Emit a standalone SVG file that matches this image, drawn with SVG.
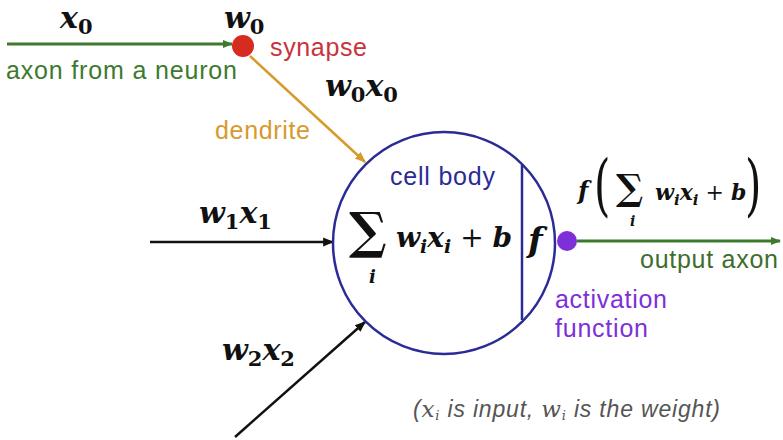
<svg xmlns="http://www.w3.org/2000/svg" width="783" height="440" viewBox="0 0 783 440">
<style>
.lbl{font-family:"Liberation Sans",Arial,sans-serif;font-size:25px}
.m{font-family:"DejaVu Serif",serif;font-weight:bold;font-style:italic;fill:#111}
.sub{font-style:normal;font-weight:bold}
.sig{font-family:"DejaVu Serif",serif;font-weight:bold;fill:#111}
</style>
<defs>
<marker id="ag" viewBox="0 0 10 10" refX="9" refY="5" markerWidth="10" markerHeight="10" markerUnits="userSpaceOnUse" orient="auto"><path d="M0,1 L10,5 L0,9 z" fill="#3d7a2f"/></marker>
<marker id="ao" viewBox="0 0 10 10" refX="9" refY="5" markerWidth="11" markerHeight="11" markerUnits="userSpaceOnUse" orient="auto"><path d="M0,1 L10,5 L0,9 z" fill="#d79a2c"/></marker>
<marker id="ak" viewBox="0 0 10 10" refX="9" refY="5" markerWidth="11" markerHeight="11" markerUnits="userSpaceOnUse" orient="auto"><path d="M0,1 L10,5 L0,9 z" fill="#111"/></marker>
</defs>
<rect width="783" height="440" fill="#fff"/>
<g id="connectors">
<line x1="7" y1="44" x2="232" y2="44" stroke="#3d7a2f" stroke-width="3" marker-end="url(#ag)"/>
<line x1="250" y1="56" x2="365" y2="162" stroke="#d79a2c" stroke-width="2.5" marker-end="url(#ao)"/>
<line x1="150" y1="242" x2="333" y2="242" stroke="#111" stroke-width="2.5" marker-end="url(#ak)"/>
<line x1="235" y1="437" x2="365" y2="322" stroke="#111" stroke-width="2.5" marker-end="url(#ak)"/>
<line x1="577" y1="241" x2="780" y2="241" stroke="#3d7a2f" stroke-width="3" marker-end="url(#ag)"/>
</g>
<g id="synapse">
<circle cx="243" cy="46" r="11" fill="#d62b1f"/>
<text class="lbl" x="270" y="56" fill="#c9333d" textLength="97">synapse</text>
</g>
<g id="input0">
<text class="m" x="60" y="28" font-size="30">x<tspan class="sub" font-size="21" dy="6">0</tspan></text>
<text class="m" x="224" y="28" font-size="30">w<tspan class="sub" font-size="21" dy="6">0</tspan></text>
<text class="lbl" x="6" y="79" fill="#3d7a2f" textLength="231">axon from a neuron</text>
</g>
<g id="dendrite">
<text class="m" x="325" y="96" font-size="30">w<tspan class="sub" font-size="21" dy="6">0</tspan><tspan dy="-6">x</tspan><tspan class="sub" font-size="21" dy="6">0</tspan></text>
<text class="lbl" x="215" y="139" fill="#d79a2c" textLength="95">dendrite</text>
</g>
<g id="input1">
<text class="m" x="199" y="223" font-size="30">w<tspan class="sub" font-size="21" dy="6">1</tspan><tspan dy="-6">x</tspan><tspan class="sub" font-size="21" dy="6">1</tspan></text>
</g>
<g id="input2">
<text class="m" x="222" y="360" font-size="30">w<tspan class="sub" font-size="21" dy="6">2</tspan><tspan dy="-6">x</tspan><tspan class="sub" font-size="21" dy="6">2</tspan></text>
</g>
<g id="cell-body">
<circle cx="444" cy="243" r="111" fill="none" stroke="#2b2b96" stroke-width="2.5"/>
<line x1="522" y1="165" x2="522" y2="320" stroke="#2b2b96" stroke-width="2.5"/>
<text class="lbl" x="390" y="185" fill="#2b2b96" font-size="25" textLength="105">cell body</text>
<text class="sig" x="349" y="248" font-size="50">∑</text>
<text class="m" x="369" y="283" font-size="18">i</text>
<text class="m" x="396" y="247" font-size="28">w<tspan font-size="19" dy="6">i</tspan><tspan dy="-6">x</tspan><tspan font-size="19" dy="6">i</tspan><tspan dy="-6" font-style="normal" font-weight="normal"> + </tspan>b</text>
<text class="m" x="528" y="252" font-size="34">f</text>
</g>
<g id="activation">
<circle cx="567" cy="241" r="10" fill="#7d2fd8"/>
<text class="lbl" x="555" y="308" fill="#7d2fd8" textLength="112">activation</text>
<text class="lbl" x="555" y="337" fill="#7d2fd8" textLength="93">function</text>
</g>
<g id="output">
<text class="m" x="578" y="199" font-size="24">f</text>
<text x="594" y="130" font-family="DejaVu Serif,serif" font-size="42" fill="#111" transform="scale(1,1.6)">(</text>
<text class="sig" x="616" y="200" font-size="36">∑</text>
<text class="m" x="630" y="226" font-size="14">i</text>
<text class="m" x="655" y="200" font-size="22">w<tspan font-size="15" dy="5">i</tspan><tspan dy="-5">x</tspan><tspan font-size="15" dy="5">i</tspan><tspan dy="-5" font-style="normal" font-weight="normal"> + </tspan>b</text>
<text x="745" y="130" font-family="DejaVu Serif,serif" font-size="42" fill="#111" transform="scale(1,1.6)">)</text>
<text class="lbl" x="640" y="268" fill="#3d6e2d" textLength="138">output axon</text>
</g>
<g id="caption">
<text x="413" y="417" font-family="Liberation Sans,Arial,sans-serif" font-style="italic" font-size="23" fill="#555" textLength="307">(<tspan font-family="DejaVu Serif,serif">x<tspan font-size="13" dy="3">i</tspan></tspan><tspan dy="-3"> is input, </tspan><tspan font-family="DejaVu Serif,serif">w<tspan font-size="13" dy="3">i</tspan></tspan><tspan dy="-3"> is the weight)</tspan></text>
</g>
</svg>
